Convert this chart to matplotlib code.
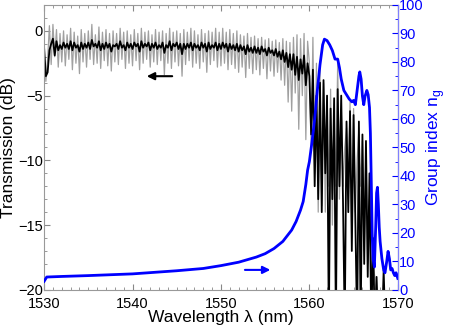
import numpy as np
import matplotlib
matplotlib.use("Agg")
import matplotlib.pyplot as plt
from matplotlib.ticker import MultipleLocator

plt.rcParams['font.family'] = ['Liberation Sans', 'DejaVu Sans']
plt.rcParams['mathtext.fontset'] = 'custom'
plt.rcParams['mathtext.rm'] = 'Liberation Sans'

# transmission, sampled every 0.2 nm from 1530 to 1570 (values < -20 are off-scale)
wl = np.round(np.arange(1530.0, 1570.01, 0.2), 1)

trans_raw = [
    -1.6, -3.9, -2.2, 0.4, -2.6, 0.5, -2.0, 0.1, -2.8, -0.2,
    -2.4, 0.0, -2.7, -0.3, -2.2, 0.2, -3.0, -0.1, -2.5, -0.4,
    -3.3, 0.1, -2.4, -0.2, -2.8, 0.0, -2.2, 0.5, -2.6, -0.3,
    -2.5, 0.3, -2.9, -0.1, -2.3, 0.1, -2.7, -0.2, -3.1, 0.0,
    -2.4, -0.2, -2.6, 0.2, -2.2, -0.1, -2.9, 0.0, -2.5, -0.3,
    -2.7, 0.1, -2.3, -0.2, -3.0, 0.2, -2.5, -0.1, -2.2, 0.0,
    -2.8, -0.3, -2.4, 0.1, -2.6, -0.1, -2.3, 0.0, -3.4, -0.2,
    -2.5, 0.2, -2.9, -0.1, -2.4, 0.0, -2.7, -0.2, -3.5, 0.1,
    -2.6, -0.1, -2.3, 0.2, -2.8, 0.0, -2.5, -0.3, -2.9, 0.1,
    -2.4, -0.2, -3.2, 0.0, -2.6, -0.1, -2.3, 0.2, -2.8, -0.1,
    -2.7, 0.2, -2.5, -0.1, -3.0, 0.1, -2.6, -0.2, -2.9, 0.0,
    -3.2, -0.3, -2.8, -0.4, -3.6, -0.2, -2.9, -0.5, -3.3, -0.4,
    -3.0, -0.6, -3.4, -0.5, -2.9, -0.7, -3.7, -0.6, -3.1, -0.8,
    -3.5, -0.7, -3.2, -0.9, -3.8, -0.6, -4.2, -0.8, -5.5, -0.9,
    -6.2, -0.5, -4.8, -0.3, -7.6, -0.6, -5.0, -0.2, -8.4, -0.8,
    -2.5, -9.0, -0.5, -11.0, -2.5, -14.0, -3.0, -13.5, -4.0, -14.0,
    -5.0, -12.0, -4.5, -15.0, -6.0, -12.0, -2.5, -13.0, -6.0, -12.0,
    -9.0, -7.5, -13.0, -5.5, -16.0, -6.0, -14.0, -10.0, -7.5, -12.0,
    -8.5, -17.0, -9.0, -18.0, -13.0, -20.5, -18.0, -19.0, -23.0, -23.0,
    -23.0, -23.0, -23.0, -23.0, -23.0, -23.0, -23.0, -23.0, -23.0, -23.0,
    -23.0,
]

trans_smooth = [
    -1.3, -3.5, -3.2, -1.5, -1.0, -0.6, -1.9, -0.8, -1.5, -1.1,
    -1.4, -0.9, -1.3, -1.0, -1.4, -0.8, -1.5, -0.9, -1.3, -1.1,
    -1.6, -0.9, -1.4, -1.0, -1.3, -0.9, -1.4, -0.7, -1.2, -1.0,
    -1.3, -0.8, -1.5, -1.0, -1.4, -0.9, -1.3, -1.0, -1.6, -1.1,
    -1.2, -1.0, -1.4, -0.8, -1.3, -1.1, -1.5, -0.9, -1.3, -1.0,
    -1.4, -0.9, -1.2, -1.0, -1.6, -0.8, -1.3, -1.0, -1.2, -0.9,
    -1.5, -1.0, -1.3, -0.9, -1.4, -1.1, -1.3, -0.9, -1.7, -1.1,
    -1.3, -0.8, -1.5, -1.0, -1.2, -0.9, -1.4, -1.0, -1.8, -1.0,
    -1.4, -1.0, -1.3, -0.9, -1.5, -1.0, -1.3, -1.1, -1.5, -0.9,
    -1.3, -1.0, -1.6, -0.9, -1.4, -1.1, -1.3, -0.9, -1.5, -1.0,
    -1.4, -0.9, -1.3, -1.0, -1.6, -1.0, -1.4, -1.1, -1.5, -1.0,
    -1.6, -1.1, -1.5, -1.2, -1.8, -1.1, -1.6, -1.3, -1.7, -1.2,
    -1.7, -1.3, -1.8, -1.2, -1.6, -1.4, -1.9, -1.3, -1.7, -1.5,
    -1.9, -1.4, -2.0, -1.6, -2.2, -1.5, -2.4, -1.7, -2.8, -1.8,
    -3.0, -1.8, -3.4, -2.0, -3.8, -2.2, -3.3, -1.9, -4.2, -2.5,
    -3.5, -8.0, -3.0, -12.0, -5.0, -13.0, -4.0, -14.0, -3.8, -11.0,
    -5.0, -23.0, -6.0, -13.0, -5.2, -23.0, -4.5, -12.0, -5.0, -13.0,
    -23.0, -7.0, -14.0, -6.2, -17.0, -6.5, -15.0, -23.0, -7.0, -23.0,
    -8.0, -18.0, -8.5, -19.0, -11.0, -23.0, -16.0, -23.0, -19.0, -23.0,
    -23.0, -23.0, -18.5, -23.0, -23.0, -23.0, -23.0, -23.0, -23.0, -23.0,
    -23.0,
]

# group index
ng_wl = [1530.0, 1530.3, 1532, 1535, 1540, 1545, 1548, 1550, 1552, 1554,
         1555, 1556, 1557, 1557.5, 1558, 1558.5, 1559, 1559.3, 1559.6, 1559.8,
         1560.0, 1560.3, 1560.6, 1560.9, 1561.2, 1561.5, 1561.7, 1562.0, 1562.3, 1562.6,
         1562.9, 1563.2, 1563.4, 1563.6, 1563.9, 1564.2, 1564.5, 1564.8, 1565.0, 1565.2,
         1565.4, 1565.6, 1565.7, 1565.85, 1566.0, 1566.15, 1566.3, 1566.5, 1566.65, 1566.8,
         1566.9, 1567.0, 1567.1, 1567.2, 1567.35, 1567.5, 1567.6, 1567.7, 1567.8, 1567.9,
         1568.0, 1568.2, 1568.4, 1568.55, 1568.75, 1568.9, 1569.05, 1569.2, 1569.35, 1569.5,
         1569.65, 1569.8, 1570.0]
ng = [3.0, 4.5, 4.7, 5.0, 5.6, 6.7, 7.5, 8.5, 9.7, 11.5,
      12.7, 14.5, 17.0, 19.0, 21.0, 24.0, 28.0, 31.0, 37.0, 42.0,
      45.0, 52.0, 60.0, 70.0, 79.0, 86.0, 88.0, 87.5, 86.0, 84.0,
      81.0, 81.0, 78.0, 74.0, 70.0, 68.5, 67.0, 66.0, 66.5, 65.0,
      70.0, 75.0, 76.5, 74.0, 68.0, 65.0, 68.0, 70.0, 68.5, 64.0,
      55.0, 38.0, 20.0, 11.0, 8.0, 22.0, 34.0, 36.0, 30.0, 22.0,
      17.0, 11.0, 7.0, 6.0, 10.0, 13.5, 11.0, 7.0, 7.5, 6.0,
      5.0, 6.0, 4.0]

blue = '#0000ff'

fig = plt.figure(figsize=(4.5, 3.32), dpi=100)
ax = fig.add_axes([0.098, 0.127, 0.786, 0.858])
ax.plot(wl, trans_raw, color='#a0a0a0', lw=0.9)
ax.plot(wl, trans_smooth, color='black', lw=1.3)
ax.set_xlim(1530, 1570)
ax.set_ylim(-20, 2)
ax.set_xlabel('Wavelength λ (nm)', fontsize=12.5, labelpad=-1)
ax.set_ylabel('Transmission (dB)', fontsize=12.5)
ax.yaxis.set_label_coords(-0.08, 0.5)
ax.xaxis.set_major_locator(MultipleLocator(10))
ax.xaxis.set_minor_locator(MultipleLocator(1))
ax.yaxis.set_major_locator(MultipleLocator(5))
ax.yaxis.set_minor_locator(MultipleLocator(1))
ax.tick_params(which='both', direction='in', top=True, right=False,
               labelsize=10.5, color='#888888')
ax.tick_params(axis='y', pad=1)
ax.tick_params(axis='x', pad=5.5)
ax.tick_params(which='major', length=4)
ax.tick_params(which='minor', length=2)
for s in ['left', 'bottom', 'top']:
    ax.spines[s].set_color('#999999')
ax.annotate('', xy=(1541.3, -3.5), xytext=(1544.8, -3.5),
            arrowprops=dict(arrowstyle='-|>', color='black', lw=1.5, mutation_scale=11))

ax2 = ax.twinx()
ax2.plot(ng_wl, ng, color=blue, lw=2)
ax2.set_ylim(0, 100)
ax2.set_ylabel('Group index n$_\\mathregular{g}$', fontsize=12.5, color=blue)
ax2.yaxis.set_label_coords(1.075, 0.5)
ax2.yaxis.set_major_locator(MultipleLocator(10))
ax2.yaxis.set_minor_locator(MultipleLocator(5))
ax2.tick_params(which='both', direction='in', labelsize=10.5, pad=1,
                colors=blue, labelcolor=blue)
ax2.tick_params(which='major', length=4)
ax2.tick_params(which='minor', length=2)
ax2.spines['right'].set_color('#8080ff')
for s in ['left', 'bottom', 'top']:
    ax2.spines[s].set_visible(False)
ax2.annotate('', xy=(1555.9, 7), xytext=(1552.4, 7),
             arrowprops=dict(arrowstyle='-|>', color=blue, lw=1.5, mutation_scale=11))

fig.savefig('out.png', dpi=100)
